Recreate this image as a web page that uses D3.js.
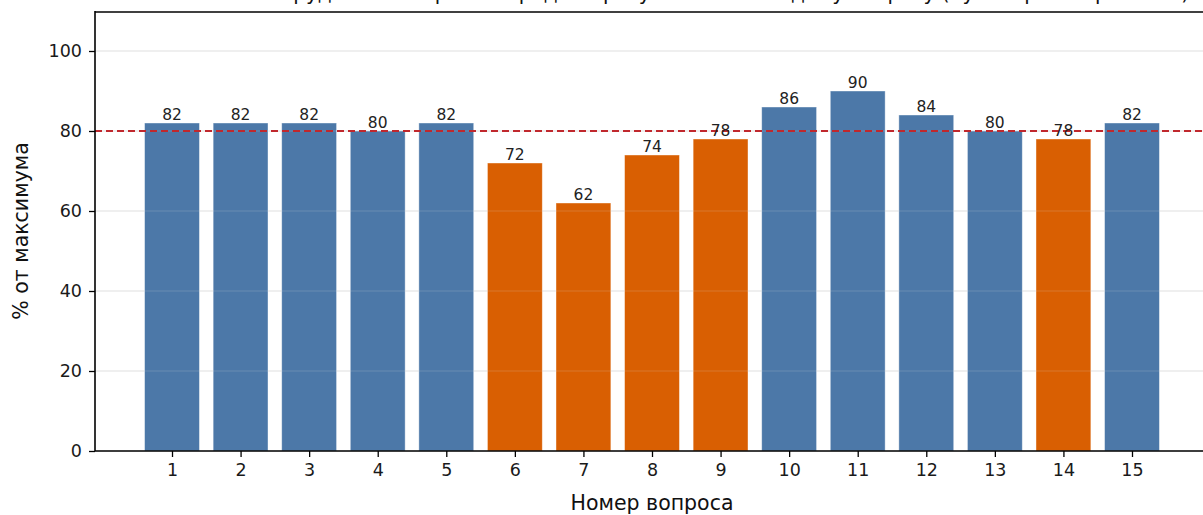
<!DOCTYPE html>
<html><head><meta charset="utf-8">
<script src="https://cdn.jsdelivr.net/npm/d3@7"></script>
<style>body{margin:0;background:#fff}svg{display:block;font-family:"DejaVu Sans",sans-serif}</style>
</head><body>
<script>
const questions = [1,2,3,4,5,6,7,8,9,10,11,12,13,14,15];
const scores = [82,82,82,80,82,72,62,74,78,86,90,84,80,78,82];
const threshold = 80;
const yTicks = [0,20,40,60,80,100];
const titleText = "Трудность вопросов: средний результат по каждому вопросу (пунктир — порог 80%)";
const xLabel = "Номер вопроса";
const yLabel = "% от максимума";

const W = 1203, H = 515;
const mLeft = 95, mRight = 1209, mTop = 11, mBottom = 451;
const svg = d3.select("body").append("svg").attr("width", W).attr("height", H);

const x = d3.scaleLinear().domain([-0.123, 16.123]).range([mLeft, mRight]);
const y = d3.scaleLinear().domain([0, 110]).range([mBottom, mTop]);
const bw = (x(1) - x(0)) * 0.8;

// grid
svg.append("g").selectAll("line").data(yTicks).join("line")
  .attr("x1", mLeft).attr("x2", mRight)
  .attr("y1", d => y(d)).attr("y2", d => y(d))
  .attr("stroke", "#e3e3e3").attr("stroke-width", 1.2);

// bars
svg.append("g").selectAll("rect").data(questions).join("rect")
  .attr("x", (d) => x(d) - bw/2)
  .attr("width", bw)
  .attr("y", (d,i) => y(scores[i]))
  .attr("height", (d,i) => y(0) - y(scores[i]))
  .attr("fill", (d,i) => scores[i] < threshold ? "#d95f02" : "#4c78a8")
  .attr("stroke", "#ffffff").attr("stroke-opacity", 0.5).attr("stroke-width", 0.8);

// grid overlay faint
svg.append("g").selectAll("line").data(yTicks.filter(d => d > 0)).join("line")
  .attr("x1", mLeft).attr("x2", mRight)
  .attr("y1", d => y(d)).attr("y2", d => y(d))
  .attr("stroke", "#dddddd").attr("stroke-opacity", 0.2).attr("stroke-width", 1);

// threshold
svg.append("line")
  .attr("x1", mLeft).attr("x2", mRight)
  .attr("y1", y(threshold)).attr("y2", y(threshold))
  .attr("stroke", "#c0282d").attr("stroke-width", 2)
  .attr("stroke-dasharray", "7,4");

// value labels
svg.append("g").selectAll("text").data(questions).join("text")
  .attr("x", d => x(d))
  .attr("y", (d,i) => y(scores[i]) - 3)
  .attr("text-anchor", "middle")
  .attr("font-size", 15.5).attr("fill", "#222")
  .text((d,i) => scores[i]);

// axes
const xAxis = d3.axisBottom(x).tickValues(questions).tickFormat(d3.format("d")).tickSize(6).tickPadding(7);
const gx = svg.append("g").attr("transform", `translate(0,${mBottom})`).call(xAxis);
const yAxis = d3.axisLeft(y).tickValues(yTicks).tickSize(6).tickPadding(7);
const gy = svg.append("g").attr("transform", `translate(${mLeft},0)`).call(yAxis);
[gx, gy].forEach(g => {
  g.select(".domain").remove();
  g.selectAll(".tick line").attr("stroke", "#000").attr("stroke-width", 1.3);
  g.selectAll(".tick text").attr("font-size", 17.5).attr("fill", "#1a1a1a").attr("font-family", "DejaVu Sans");
});

// spines
svg.append("line").attr("x1", mLeft).attr("x2", mLeft).attr("y1", mTop).attr("y2", mBottom).attr("stroke", "#000").attr("stroke-width", 1.6);
svg.append("line").attr("x1", mLeft).attr("x2", mRight).attr("y1", mBottom).attr("y2", mBottom).attr("stroke", "#000").attr("stroke-width", 1.6);
svg.append("line").attr("x1", mLeft).attr("x2", mRight).attr("y1", mTop+1).attr("y2", mTop+1).attr("stroke", "#000").attr("stroke-width", 1.6);
svg.append("line").attr("x1", mRight).attr("x2", mRight).attr("y1", mTop).attr("y2", mBottom).attr("stroke", "#000").attr("stroke-width", 1.6);

// labels
svg.append("text").attr("x", 652).attr("y", 510)
  .attr("text-anchor", "middle").attr("font-size", 20.5).attr("fill", "#111").text(xLabel);
svg.append("text").attr("transform", `translate(28,${231}) rotate(-90)`)
  .attr("text-anchor", "middle").attr("font-size", 20.5).attr("fill", "#111").text(yLabel);
svg.append("text").attr("x", 735).attr("y", 0)
  .attr("text-anchor", "middle").attr("font-size", 20).attr("fill", "#111").text(titleText);
</script>
</body></html>
